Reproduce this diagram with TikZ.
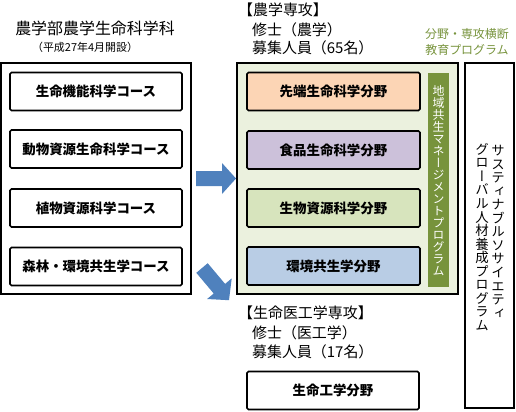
\documentclass[tikz,border=0pt]{standalone}
\usepackage{fontspec}
\setmainfont{Noto Sans CJK JP}
\newfontfamily\vjp[RawFeature=+vert]{Noto Sans CJK JP}
\definecolor{arrowblue}{HTML}{4F81BD}
\definecolor{palegreen}{HTML}{EBF1DE}
\definecolor{olive}{HTML}{77933C}
\definecolor{fOrange}{HTML}{FCD5B5}
\definecolor{fPurple}{HTML}{CCC1DA}
\definecolor{fGreen}{HTML}{D7E4BD}
\definecolor{fBlue}{HTML}{B9CDE5}
\tikzset{
  bigbox/.style={draw=black, line width=2bp},
  item/.style={draw=black, line width=1.6bp, rounded corners=1.5bp, minimum height=38bp, inner sep=0pt,
     font=\bfseries\fontsize{13.5}{16}\selectfont},
  course/.style={item, fill=white, minimum width=172bp},
  field/.style={item, minimum width=173bp},
  plain/.style={inner sep=0pt, anchor=west, font=\fontsize{15}{18}\selectfont},
  greentxt/.style={inner sep=0pt, text=olive, font=\fontsize{12}{14}\selectfont},
  blockarrow/.style={fill=arrowblue, draw=none},
}
\begin{document}
\begin{tikzpicture}[x=1bp,y=-1bp]
\useasboundingbox (0,0) rectangle (516,411);

% titles left
\node[inner sep=0pt, font=\fontsize{16}{18}\selectfont] (title) at (95,28) {農学部農学生命科学科};
\node[inner sep=0pt, font=\fontsize{11}{13}\selectfont] (sub) at (85,47) {（平成27年4月開設）};

% left outer box
\draw[bigbox] (1,63) rectangle (190.5,294);
\node[course] (c1) at (96,91.5) {生命機能科学コース};
\node[course] (c2) at (96,149) {動物資源生命科学コース};
\node[course] (c3) at (96,208) {植物資源科学コース};
\node[course] (c4) at (96,266.5) {森林・環境共生学コース};

% right: agriculture major
\node[plain] (m1) at (238,10) {【農学専攻】};
\node[plain] (m2) at (252,30) {修士（農学）};
\node[plain] (m3) at (252,48) {募集人員（65名）};
\node[greentxt] (g1) at (467,34) {分野・専攻横断};
\node[greentxt] (g2) at (467,50) {教育プログラム};

\draw[bigbox, fill=palegreen] (237,63) rectangle (458,294);
\node[field, fill=fOrange] (f1) at (333.5,91.5) {先端生命科学分野};
\node[field, fill=fPurple] (f2) at (333.5,150) {食品生命科学分野};
\node[field, fill=fGreen]  (f3) at (333.5,208) {生物資源科学分野};
\node[field, fill=fBlue]   (f4) at (333.5,266) {環境共生学分野};

\fill[olive] (428,73) rectangle (449,287);
\node[inner sep=0pt, text=white, align=center, font=\vjp\fontsize{12}{12}\selectfont] (bar) at (438.5,180.5)
  {地\\域\\共\\生\\マ\\ネ\\ー\\ジ\\メ\\ン\\ト\\プ\\ロ\\グ\\ラ\\ム};

% right tall box
\draw[draw=black, line width=1.6bp] (465,63) rectangle (514,408);
\node[inner sep=0pt, anchor=north, align=center, font=\vjp\fontsize{13.5}{13.6}\selectfont] (v1) at (498,145)
  {サ\\ス\\テ\\ィ\\ナ\\ブ\\ル\\ソ\\サ\\イ\\エ\\テ\\ィ};
\node[inner sep=0pt, anchor=north, align=center, font=\vjp\fontsize{13.5}{13.6}\selectfont] (v2) at (482,143)
  {グ\\ロ\\ー\\バ\\ル\\人\\材\\養\\成\\プ\\ロ\\グ\\ラ\\ム};

% medical engineering major
\node[plain] (e1) at (238,313) {【生命医工学専攻】};
\node[plain] (e2) at (252,333) {修士（医工学）};
\node[plain] (e3) at (252,352) {募集人員（17名）};
\node[course, minimum width=172bp] (e4) at (333,390.5) {生命工学分野};

% block arrows
\fill[blockarrow] (196,171) -- (222,171) -- (222,163) -- (236,178.5) -- (222,194) -- (222,186) -- (196,186) -- cycle;
\fill[blockarrow] (207.7,263.2) -- (225.1,283.9) -- (231.7,278.4) -- (229,300.2) -- (207.1,299) -- (213.7,293.5) -- (196.3,272.8) -- cycle;
\end{tikzpicture}
\end{document}
